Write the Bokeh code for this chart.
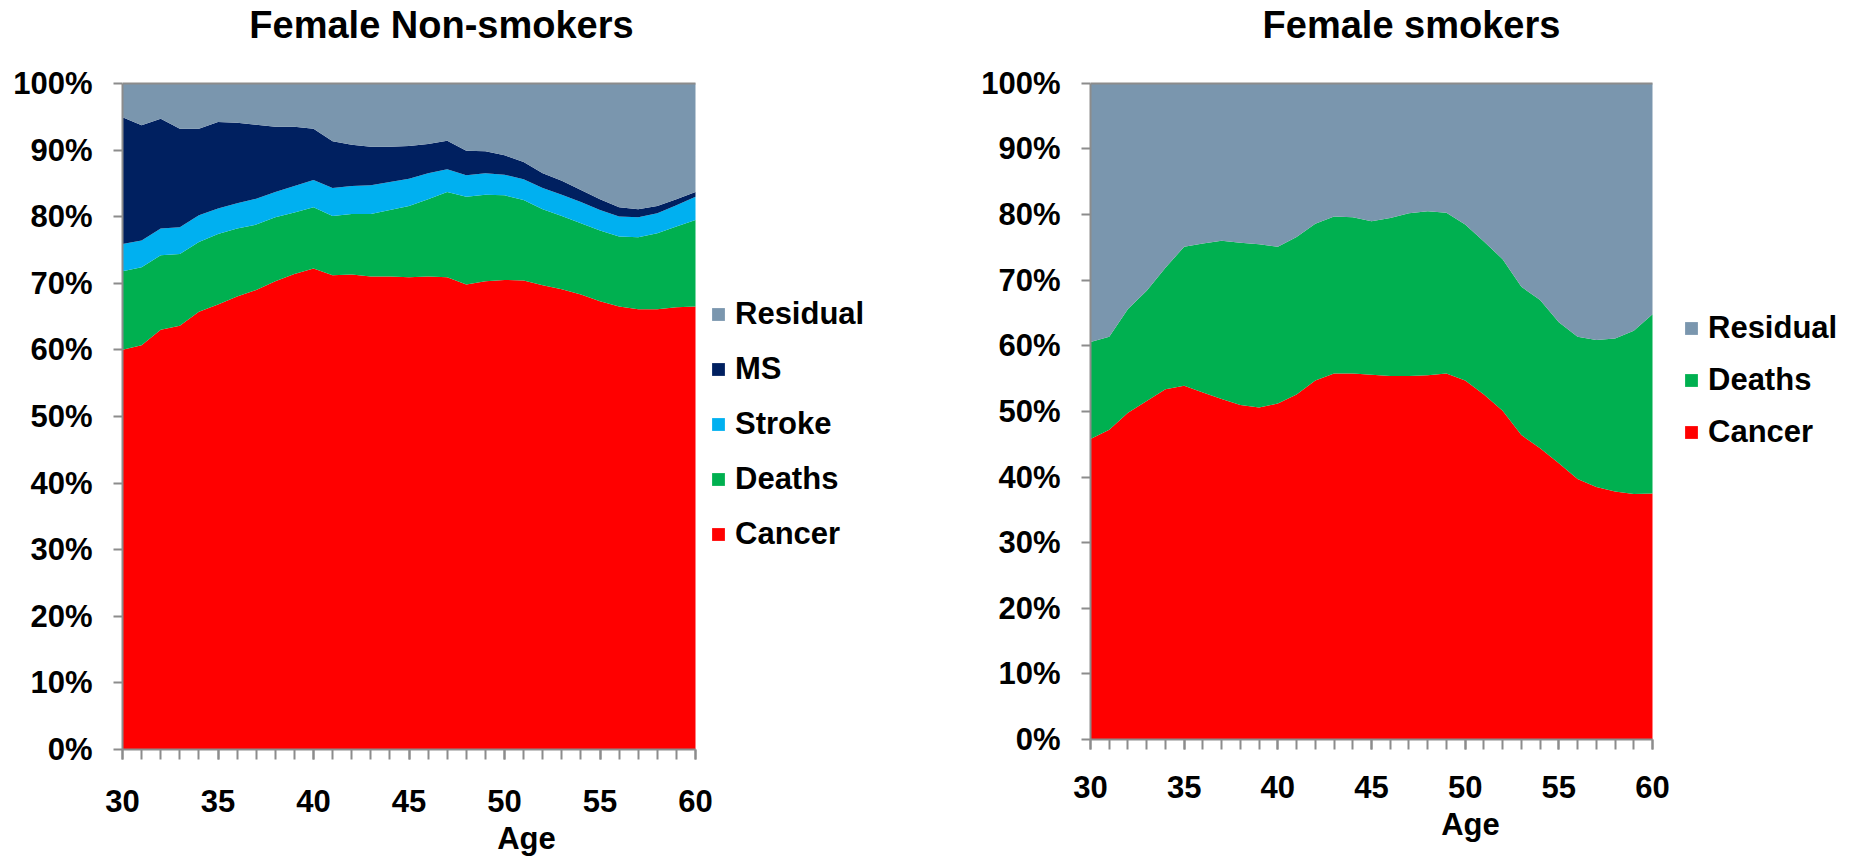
from bokeh.plotting import figure
from bokeh.models import (ColumnDataSource, Range1d, FixedTicker, PrintfTickFormatter,
                          Legend, LegendItem, Label)
from bokeh.layouts import row
from bokeh.embed import file_html
from bokeh.resources import INLINE

# ---------------- data (shares in %, by age) ----------------
ages = list(range(30, 61))

# Female non-smokers
ns_cancer = [60.0, 60.7, 63.0, 63.6, 65.7, 66.8, 68.0, 69.0, 70.3, 71.4, 72.2,
             71.2, 71.3, 71.0, 71.0, 70.9, 71.0, 70.9, 69.8, 70.3, 70.5,
             70.4, 69.7, 69.1, 68.3, 67.3, 66.5, 66.1, 66.1, 66.4, 66.5]
ns_deaths = [11.8, 11.7, 11.2, 10.8, 10.5, 10.6, 10.2, 9.8, 9.6, 9.2, 9.2,
             8.9, 9.1, 9.4, 10.0, 10.7, 11.6, 12.8, 13.2, 13.0, 12.7,
             12.1, 11.4, 11.0, 10.7, 10.6, 10.5, 10.8, 11.4, 12.1, 13.0]
ns_stroke = [4.1, 4.0, 4.0, 4.0, 4.0, 3.8, 3.8, 3.9, 3.8, 4.0, 4.1,
             4.2, 4.2, 4.3, 4.2, 4.1, 3.9, 3.4, 3.2, 3.2, 3.1,
             3.1, 3.2, 3.2, 3.2, 3.1, 3.0, 3.0, 3.0, 3.2, 3.5]
ns_ms = [19.0, 17.3, 16.5, 14.8, 13.0, 13.0, 12.1, 11.1, 9.8, 8.9, 7.7,
         7.0, 6.2, 5.8, 5.3, 4.9, 4.4, 4.3, 3.7, 3.3, 2.9,
         2.6, 2.2, 2.1, 1.8, 1.6, 1.4, 1.2, 1.1, 0.9, 0.7]
ns_residual = [5.1, 6.3, 5.3, 6.8, 6.8, 5.8, 5.9, 6.2, 6.5, 6.5, 6.8,
               8.7, 9.2, 9.5, 9.5, 9.4, 9.1, 8.6, 10.1, 10.2, 10.8,
               11.8, 13.5, 14.6, 16.0, 17.4, 18.6, 18.9, 18.4, 17.4, 16.3]

# Female smokers
sm_cancer = [45.8, 47.2, 49.8, 51.6, 53.4, 53.9, 52.9, 51.9, 51.0, 50.6, 51.2,
             52.6, 54.7, 55.8, 55.8, 55.6, 55.4, 55.4, 55.5, 55.8, 54.7,
             52.6, 50.1, 46.4, 44.4, 42.1, 39.7, 38.5, 37.8, 37.4, 37.5]
sm_deaths = [14.8, 14.2, 15.8, 16.8, 18.5, 21.2, 22.7, 24.1, 24.7, 24.9, 23.9,
             24.0, 23.9, 23.9, 23.8, 23.4, 24.1, 24.8, 25.0, 24.5, 23.8,
             23.3, 23.1, 22.6, 22.6, 21.5, 21.7, 22.4, 23.3, 24.9, 27.3]
sm_residual = [39.4, 38.6, 34.4, 31.6, 28.1, 24.9, 24.4, 24.0, 24.3, 24.5, 24.9,
               23.4, 21.4, 20.3, 20.4, 21.0, 20.5, 19.8, 19.5, 19.7, 21.5,
               24.1, 26.8, 31.0, 33.0, 36.4, 38.6, 39.1, 38.9, 37.7, 35.2]

x_ticks = [30, 35, 40, 45, 50, 55, 60]
y_ticks = [0, 10, 20, 30, 40, 50, 60, 70, 80, 90, 100]

COLORS = {"Cancer": "#FF0000", "Deaths": "#00B050", "Stroke": "#00B0F0",
          "MS": "#002060", "Residual": "#7A96AE"}

FONT = "Liberation Sans"
FS = "31px"
AXIS_COLOR = "#8C8C8C"


def make_fig(title, series, width, height, bl, br, bb, data_w, data_h,
             title_x, title_y, xlab_standoff, age_standoff, legend_loc, legend_spacing):
    frame_w = width - bl - br
    frame_h = height - bb
    x0, x1 = x_ticks[0], x_ticks[-1]
    y0, y1 = y_ticks[0], y_ticks[-1]
    # the frame is wider/taller than the data area so that legend and title fit inside it
    x_end = x0 + (x1 - x0) * frame_w / data_w
    y_end = y0 + (y1 - y0) * frame_h / data_h
    p = figure(width=width, height=height, output_backend="svg", toolbar_location=None,
               x_range=Range1d(x0, x_end), y_range=Range1d(y0, y_end),
               min_border_left=bl, min_border_right=br,
               min_border_top=0, min_border_bottom=bb)
    p.background_fill_color = "white"
    p.border_fill_color = "white"
    p.outline_line_color = None
    p.grid.visible = False

    names = [n for n, _ in series]
    data = {"age": ages}
    for n, v in series:
        data[n] = v
    src = ColumnDataSource(data)
    rends = p.varea_stack(stackers=names, x="age", color=[COLORS[n] for n in names],
                          source=src)

    # top border line of plot area
    p.line(x=[x0, x1], y=[y1, y1], line_color=AXIS_COLOR, line_width=2)

    # axes
    xa = p.xaxis[0]
    xa.bounds = (x0, x1)
    xa.ticker = FixedTicker(ticks=x_ticks, minor_ticks=ages)
    xa.major_tick_out = 10
    xa.major_tick_in = 0
    xa.minor_tick_out = 10
    xa.minor_tick_in = 0
    xa.major_label_standoff = xlab_standoff
    xa.axis_label = "Age"
    xa.axis_label_standoff = age_standoff
    xa.axis_label_text_font = FONT
    xa.axis_label_text_font_size = FS
    xa.axis_label_text_font_style = "bold"
    xa.axis_label_text_color = "black"
    ya = p.yaxis[0]
    ya.bounds = (y0, y1)
    ya.ticker = FixedTicker(ticks=y_ticks, minor_ticks=[])
    ya.formatter = PrintfTickFormatter(format="%d%%")
    ya.major_tick_out = 9
    ya.major_tick_in = 0
    ya.minor_tick_out = 0
    ya.minor_tick_in = 0
    ya.major_label_standoff = 21
    for ax in (xa, ya):
        ax.axis_line_color = AXIS_COLOR
        ax.axis_line_width = 2
        ax.major_tick_line_color = AXIS_COLOR
        ax.major_tick_line_width = 2
        ax.minor_tick_line_color = AXIS_COLOR
        ax.minor_tick_line_width = 2
        ax.major_label_text_font = FONT
        ax.major_label_text_font_size = FS
        ax.major_label_text_font_style = "bold"
        ax.major_label_text_color = "black"

    p.add_layout(Label(x=title_x, y=title_y, x_units="screen", y_units="screen",
                       text=title, text_align="center", text_baseline="alphabetic",
                       text_font=FONT, text_font_size="38px", text_font_style="bold",
                       text_color="black"))

    items = [LegendItem(label=n, renderers=[r]) for n, r in zip(names, rends)][::-1]
    leg = Legend(items=items, location=legend_loc, orientation="vertical",
                 label_text_font=FONT, label_text_font_size=FS,
                 label_text_font_style="bold", label_text_color="black",
                 glyph_width=16, glyph_height=16, label_standoff=9,
                 spacing=legend_spacing, padding=0, margin=0,
                 border_line_color=None, background_fill_alpha=0)
    p.add_layout(leg, "center")
    return p


p1 = make_fig("Female Non-smokers",
              [("Cancer", ns_cancer), ("Deaths", ns_deaths), ("Stroke", ns_stroke),
               ("MS", ns_ms), ("Residual", ns_residual)],
              width=940, height=858, bl=122, br=10, bb=108, data_w=573, data_h=667,
              title_x=319, title_y=725, xlab_standoff=30, age_standoff=6,
              legend_loc=(588, 197), legend_spacing=19)

p2 = make_fig("Female smokers",
              [("Cancer", sm_cancer), ("Deaths", sm_deaths), ("Residual", sm_residual)],
              width=916, height=848, bl=150, br=6, bb=108, data_w=562, data_h=657,
              title_x=321, title_y=715, xlab_standoff=26, age_standoff=6,
              legend_loc=(593, 289), legend_spacing=16)

layout = row(p1, p2)
open("out.html", "w").write(file_html(layout, INLINE))
